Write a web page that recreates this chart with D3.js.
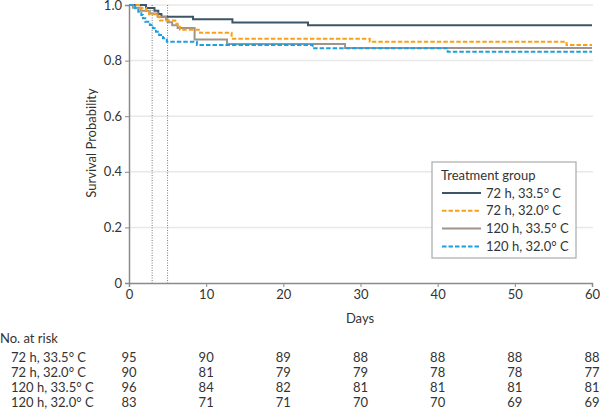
<!DOCTYPE html>
<html>
<head>
<meta charset="utf-8">
<script src="https://cdn.jsdelivr.net/npm/d3@7"></script>
<style>
  body { margin: 0; background: #fff; }
  svg text { font-family: Lato, "Open Sans", sans-serif; fill: #333; }
</style>
</head>
<body>
<div class="svg-container"></div>
<script>
// Kaplan-Meier steps: [day, survival]
var groups = ['72 h, 33.5° C', '72 h, 32.0° C', '120 h, 33.5° C', '120 h, 32.0° C']
var colors = ['#3d5566', '#f7a11a', '#a0938a', '#1f9fe0']
var dashed = [false, true, false, true]

var steps72h335 = [[0, 1], [2.2, 0.989], [3.3, 0.979], [3.8, 0.968], [4.2, 0.958], [8.3, 0.949], [13.4, 0.937], [23.2, 0.927]]
var steps72h320 = [[0, 1], [1.5, 0.989], [2.2, 0.978], [2.6, 0.967], [3.8, 0.956], [4.0, 0.944], [6.0, 0.933], [6.3, 0.922], [6.6, 0.911], [9.2, 0.9], [13.3, 0.879], [31.2, 0.868], [56.7, 0.856]]
var steps120h335 = [[0, 1], [0.5, 0.99], [1.5, 0.979], [2.7, 0.969], [3.7, 0.958], [4.8, 0.948], [5.0, 0.938], [5.6, 0.927], [6.3, 0.917], [8.5, 0.876], [12.7, 0.86], [28, 0.845]]
var steps120h320 = [[0, 1], [0.8, 0.988], [1.2, 0.976], [1.6, 0.964], [1.8, 0.952], [2.1, 0.94], [2.7, 0.928], [3.1, 0.916], [3.5, 0.904], [3.9, 0.892], [4.4, 0.88], [4.9, 0.868], [8.8, 0.856], [23.8, 0.844], [41.3, 0.832]]
var allSteps = [steps72h335, steps72h320, steps120h335, steps120h320]

var dayTicks = [0, 10, 20, 30, 40, 50, 60]
var probTicks = [0, 0.2, 0.4, 0.6, 0.8, 1.0]
var refDays = [3, 5]

var atRisk72h335 = [95, 90, 89, 88, 88, 88, 88]
var atRisk72h320 = [90, 81, 79, 79, 78, 78, 77]
var atRisk120h335 = [96, 84, 82, 81, 81, 81, 81]
var atRisk120h320 = [83, 71, 71, 70, 70, 69, 69]
var atRisk = [atRisk72h335, atRisk72h320, atRisk120h335, atRisk120h320]

var width = 600
var height = 411

var svg = d3.select('.svg-container').append('svg')
    .attr('width', width)
    .attr('height', height)

var x = d3.scaleLinear().domain([0, 60]).range([129, 592])
var y = d3.scaleLinear().domain([0, 1]).range([283, 5])

// gridlines
svg.append('g')
    .selectAll('line')
    .data(probTicks.filter(function (d) { return d > 0 }))
    .enter()
    .append('line')
    .attr('x1', x(0))
    .attr('x2', x(60) + 1)
    .attr('y1', function (d) { return y(d) })
    .attr('y2', function (d) { return y(d) })
    .attr('stroke', '#e8e8e8')
    .attr('stroke-width', 1.5)

// dotted reference lines
svg.append('g')
    .selectAll('line')
    .data(refDays)
    .enter()
    .append('line')
    .attr('x1', function (d) { return x(d) })
    .attr('x2', function (d) { return x(d) })
    .attr('y1', y(1))
    .attr('y2', y(0))
    .attr('stroke', '#777')
    .attr('stroke-width', 1)
    .attr('stroke-dasharray', '1,1.5')

// axes
var xAxis = svg.append('g')
    .attr('transform', 'translate(0,' + y(0) + ')')
    .call(d3.axisBottom(x).tickValues(dayTicks).tickSize(4).tickPadding(3).tickFormat(d3.format('d')))
var yAxis = svg.append('g')
    .attr('transform', 'translate(' + x(0) + ',0)')
    .call(d3.axisLeft(y).tickValues(probTicks).tickSize(4).tickPadding(3)
        .tickFormat(function (d) { return d === 0 ? '0' : d3.format('.1f')(d) }))

;[xAxis, yAxis].forEach(function (a) {
  a.select('.domain').attr('stroke', '#8a8a8a').attr('stroke-width', 1.5)
  a.selectAll('.tick line').attr('stroke', '#8a8a8a')
  a.selectAll('.tick text').attr('font-size', '13px').attr('fill', '#333')
})

svg.append('text')
    .attr('x', 360)
    .attr('y', 323)
    .attr('text-anchor', 'middle')
    .attr('font-size', '13px')
    .text('Days')

svg.append('text')
    .attr('transform', 'translate(96,143) rotate(-90)')
    .attr('text-anchor', 'middle')
    .attr('font-size', '13px')
    .text('Survival Probability')

// survival curves
var line = d3.line()
    .x(function (d) { return x(d[0]) })
    .y(function (d) { return y(d[1]) })
    .curve(d3.curveStepAfter)

var drawOrder = [0, 2, 1, 3]
drawOrder.forEach(function (i) {
  var pts = allSteps[i].concat([[60, allSteps[i][allSteps[i].length - 1][1]]])
  svg.append('path')
      .datum(pts)
      .attr('d', line)
      .attr('fill', 'none')
      .attr('stroke', colors[i])
      .attr('stroke-width', 2)
      .attr('stroke-dasharray', dashed[i] ? '4.5,2' : null)
})

// legend
var legend = svg.append('g').attr('transform', 'translate(432,162)')
legend.append('rect')
    .attr('width', 144)
    .attr('height', 96)
    .attr('fill', '#fff')
    .attr('stroke', '#999')
legend.append('text')
    .attr('x', 9)
    .attr('y', 18)
    .attr('font-size', '13px')
    .text('Treatment group')

var rows = legend.selectAll('g.row')
    .data(groups)
    .enter()
    .append('g')
    .attr('class', 'row')
    .attr('transform', function (d, i) { return 'translate(0,' + (31 + i * 17.8) + ')' })
rows.append('line')
    .attr('x1', 10)
    .attr('x2', 49)
    .attr('stroke', function (d, i) { return colors[i] })
    .attr('stroke-width', 2)
    .attr('stroke-dasharray', function (d, i) { return dashed[i] ? '4.5,2' : null })
rows.append('text')
    .attr('x', 54)
    .attr('y', 4.5)
    .attr('font-size', '13px')
    .text(function (d) { return d })

// number at risk table
svg.append('text')
    .attr('x', 0)
    .attr('y', 343)
    .attr('font-size', '13px')
    .text('No. at risk')

groups.forEach(function (g, i) {
  var yy = 362 + i * 15
  svg.append('text')
      .attr('x', 11)
      .attr('y', yy)
      .attr('font-size', '13px')
      .text(g)
  svg.append('g')
      .selectAll('text')
      .data(atRisk[i])
      .enter()
      .append('text')
      .attr('x', function (d, j) { return x(dayTicks[j]) })
      .attr('y', yy)
      .attr('text-anchor', 'middle')
      .attr('font-size', '13px')
      .text(function (d) { return d })
})
</script>
</body>
</html>
